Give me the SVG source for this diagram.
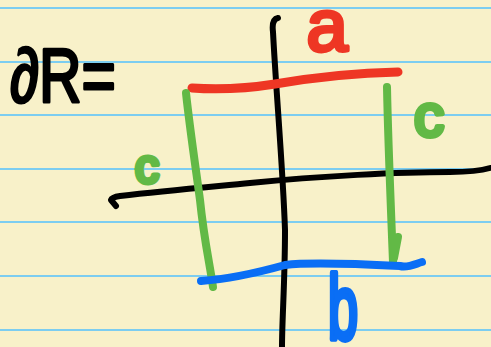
<svg xmlns="http://www.w3.org/2000/svg" width="491" height="347" viewBox="0 0 491 347">
<style>
.rule{stroke:#7ccdf0;stroke-width:2;fill:none}
.ink{fill:none;stroke-linecap:round;stroke-linejoin:round}
.hw{font-family:"Liberation Sans",Arial,sans-serif;stroke-linejoin:round}
</style>
<rect width="491" height="347" fill="#f8f1c9"/>
<g id="rules">
<line class="rule" x1="0" y1="8" x2="491" y2="8"/>
<line class="rule" x1="0" y1="62" x2="491" y2="62"/>
<line class="rule" x1="0" y1="115" x2="491" y2="115"/>
<line class="rule" x1="0" y1="169" x2="491" y2="169"/>
<line class="rule" x1="0" y1="222" x2="491" y2="222"/>
<line class="rule" x1="0" y1="276" x2="491" y2="276"/>
<line class="rule" x1="0" y1="330" x2="491" y2="330"/>
</g>
<g id="axes">
<path class="ink" stroke="#000" stroke-width="6" d="M278,18 C273,19 272,24 273,32 C276,90 283,170 285,230 C285,280 282,320 282,347"/>
<path class="ink" stroke="#000" stroke-width="6" d="M116,206 L111,200 Q112,197 120,196 C170,190 220,186 250,183 C320,176 400,172 450,172 C470,172 480,171 490,168"/>
</g>
<g id="edges">
<path class="ink" stroke="#ee3624" stroke-width="9" d="M192,88 C220,90 250,88 275,84 C310,78 350,73 398,72"/>
<path class="ink" stroke="#62b946" stroke-width="8" d="M186,93 C190,130 196,170 200,200 C204,240 210,265 213,287"/>
<path class="ink" stroke="#62b946" stroke-width="8" d="M387,87 C388,140 391,210 393,262 M398,237 L394,258"/>
<path class="ink" stroke="#0a6ef5" stroke-width="8" d="M201,281 C230,279 260,272 285,265 C310,262 360,264 400,266 C408,268 415,264 422,262"/>
</g>
<g id="labels">
<text class="hw" x="10" y="102" font-size="76" textLength="106" lengthAdjust="spacingAndGlyphs" fill="#000" stroke="#000" stroke-width="3">∂R=</text>
<text class="hw" x="327" y="51" font-size="74" text-anchor="middle" fill="#ee3624" stroke="#ee3624" stroke-width="4">a</text>
<text class="hw" x="147" y="183" font-size="48" text-anchor="middle" fill="#62b946" stroke="#62b946" stroke-width="5">c</text>
<text class="hw" x="429" y="136" font-size="60" text-anchor="middle" fill="#62b946" stroke="#62b946" stroke-width="5">c</text>
<text class="hw" transform="translate(343,339) scale(0.6,1)" x="0" y="0" font-size="90" text-anchor="middle" fill="#0a6ef5" stroke="#0a6ef5" stroke-width="6">b</text>
</g>
</svg>
